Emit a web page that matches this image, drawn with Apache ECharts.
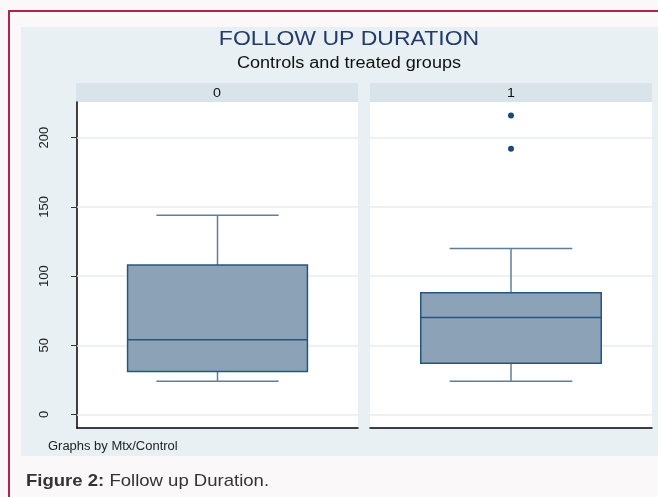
<!DOCTYPE html>
<html>
<head>
<meta charset="utf-8" />
<title>Follow up duration</title>
<script src="https://cdn.jsdelivr.net/npm/echarts@6/dist/echarts.min.js"></script>
</head>
<body style="margin:0;padding:0;background:#fbf8f9;">
<div id="main" style="width:658px;height:497px;"></div>
<script type="text/javascript">
// data (days)
var groups = ['0', '1'];
var lowWhisker = [24, 24];
var q1 = [31, 37];
var median = [54, 70];
var q3 = [108, 88];
var highWhisker = [144, 120];
var outliers = [[], [192, 216]];
var yTicks = [0, 50, 100, 150, 200];

var boxColor = '#8ca3b7';
var edgeColor = '#2a5480';
var whiskColor = '#5f7e9c';

function boxRender(params, api) {
    var i = api.value(0);
    var x = api.coord([i, 0])[0];
    var band = api.size([1, 0])[0];
    var bw = band * 0.64;
    var cw = band * 0.435;
    var yLo = api.coord([i, api.value(1)])[1];
    var yQ1 = api.coord([i, api.value(2)])[1];
    var yMd = api.coord([i, api.value(3)])[1];
    var yQ3 = api.coord([i, api.value(4)])[1];
    var yHi = api.coord([i, api.value(5)])[1];
    var wStyle = { stroke: whiskColor, lineWidth: 1.5 };
    return {
        type: 'group',
        children: [
            { type: 'line', shape: { x1: x, y1: yHi, x2: x, y2: yQ3 }, style: wStyle },
            { type: 'line', shape: { x1: x, y1: yQ1, x2: x, y2: yLo }, style: wStyle },
            { type: 'line', shape: { x1: x - cw / 2, y1: yHi, x2: x + cw / 2, y2: yHi }, style: wStyle },
            { type: 'line', shape: { x1: x - cw / 2, y1: yLo, x2: x + cw / 2, y2: yLo }, style: wStyle },
            { type: 'rect', shape: { x: x - bw / 2, y: yQ3, width: bw, height: yQ1 - yQ3 },
              style: { fill: boxColor, stroke: edgeColor, lineWidth: 1.5 } },
            { type: 'line', shape: { x1: x - bw / 2, y1: yMd, x2: x + bw / 2, y2: yMd },
              style: { stroke: edgeColor, lineWidth: 1.5 } }
        ]
    };
}

var gridLines = [];
for (var k = 0; k < yTicks.length; k++) gridLines.push({ yAxis: yTicks[k] });

var series = [];
var xAxes = [];
var yAxes = [];
var grids = [
    { left: 77, top: 102, width: 281, height: 326 },
    { left: 370, top: 102, width: 282, height: 326 }
];
for (var g = 0; g < groups.length; g++) {
    grids[g].show = true;
    grids[g].backgroundColor = '#ffffff';
    grids[g].borderWidth = 0;
    xAxes.push({
        type: 'category', gridIndex: g, data: [groups[g]], boundaryGap: true,
        axisLine: { show: true, onZero: false, lineStyle: { color: '#000', width: 1.5 } },
        axisTick: { show: false }, axisLabel: { show: false }, splitLine: { show: false }
    });
    yAxes.push({
        type: 'value', gridIndex: g, min: -9.8, max: 225.8,
        axisLine: { show: g == 0, onZero: false, lineStyle: { color: '#000', width: 1.5 } },
        axisTick: { show: g == 0, length: 6, customValues: yTicks, lineStyle: { color: '#333' } },
        axisLabel: { show: g == 0, customValues: yTicks, rotate: 90, margin: 26,
            color: '#222', fontSize: 13, fontFamily: 'Liberation Sans' },
        splitLine: { show: false }
    });
    // faint horizontal grid lines, kept under the boxes
    series.push({
        type: 'scatter', xAxisIndex: g, yAxisIndex: g, data: [], z: 1,
        markLine: { silent: true, symbol: 'none', label: { show: false },
            lineStyle: { color: '#e6eef1', width: 1.5, type: 'solid' }, data: gridLines }
    });
    series.push({
        type: 'custom', xAxisIndex: g, yAxisIndex: g, renderItem: boxRender,
        data: [[0, lowWhisker[g], q1[g], median[g], q3[g], highWhisker[g]]],
        z: 5
    });
    var pts = [];
    for (var j = 0; j < outliers[g].length; j++) pts.push([groups[g], outliers[g][j]]);
    series.push({
        type: 'scatter', xAxisIndex: g, yAxisIndex: g, data: pts,
        symbol: 'circle', symbolSize: 6, itemStyle: { color: '#1b4a77', opacity: 1 }, z: 6
    });
}

var chart = echarts.init(document.getElementById('main'));
chart.setOption({
    backgroundColor: '#fbf8f9',
    animation: false,
    graphic: [
        { type: 'rect', z: -10, shape: { x: 9, y: 11, width: 700, height: 600 },
          style: { fill: '#fbf8f9', stroke: '#b1244f', lineWidth: 2 } },
        { type: 'rect', z: -9, shape: { x: 21, y: 27, width: 637, height: 429 }, style: { fill: '#e8f0f3' } },
        { type: 'rect', z: -8, shape: { x: 76, y: 83, width: 282, height: 19 }, style: { fill: '#d8e4ea' } },
        { type: 'rect', z: -8, shape: { x: 370, y: 83, width: 282, height: 19 }, style: { fill: '#d8e4ea' } },
        { type: 'text', x: 217, y: 93, scaleX: 1.1, style: { text: groups[0], fill: '#111', fontSize: 13,
          fontFamily: 'Liberation Sans', align: 'center', verticalAlign: 'middle' } },
        { type: 'text', x: 511, y: 93, scaleX: 1.1, style: { text: groups[1], fill: '#111', fontSize: 13,
          fontFamily: 'Liberation Sans', align: 'center', verticalAlign: 'middle' } },
        { type: 'text', x: 349, y: 39, scaleX: 1.15, style: { text: 'FOLLOW UP DURATION', fill: '#243a68', fontSize: 20,
          fontFamily: 'Liberation Sans', align: 'center', verticalAlign: 'middle' } },
        { type: 'text', x: 349, y: 64, scaleX: 1.13, style: { text: 'Controls and treated groups', fill: '#111', fontSize: 16,
          fontFamily: 'Liberation Sans', align: 'center', verticalAlign: 'middle' } },
        { type: 'text', x: 48, y: 447, scaleX: 1.08, style: { text: 'Graphs by Mtx/Control', fill: '#222', fontSize: 12,
          fontFamily: 'Liberation Sans', verticalAlign: 'middle' } },
        { type: 'text', x: 26, y: 481, scaleX: 1.09, style: { text: '{b|Figure 2:} Follow up Duration.', fill: '#333', fontSize: 17,
          fontFamily: 'Liberation Sans', verticalAlign: 'middle',
          rich: { b: { fontWeight: 'bold', fontSize: 17, fill: '#333', fontFamily: 'Liberation Sans' } } } }
    ],
    grid: grids,
    xAxis: xAxes,
    yAxis: yAxes,
    series: series
});
</script>
</body>
</html>
